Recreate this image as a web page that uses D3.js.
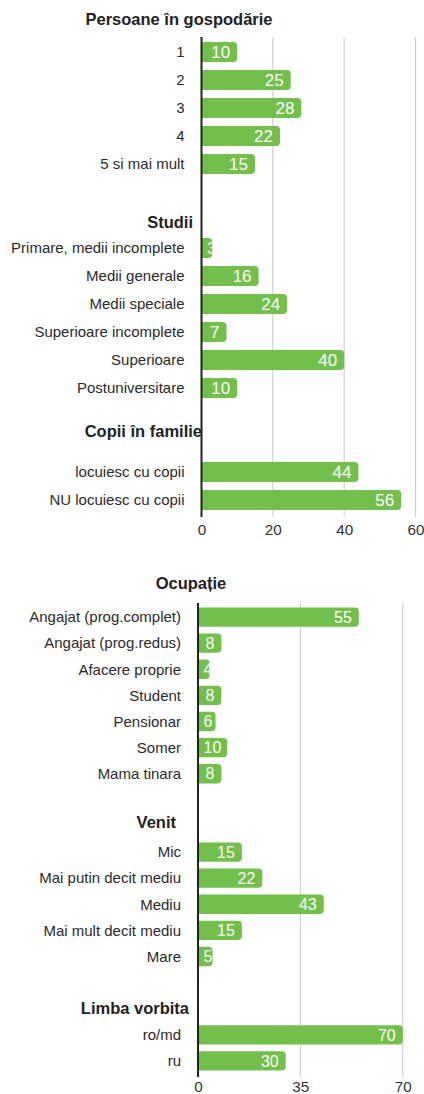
<!DOCTYPE html>
<html>
<head>
<meta charset="utf-8">
<script src="https://cdn.jsdelivr.net/npm/d3@7"></script>
<style>
  html, body { margin: 0; padding: 0; background: #fff; }
  svg { display: block; font-family: "Liberation Sans", Arial, Helvetica, sans-serif; }
</style>
</head>
<body>
<svg id="chart" width="424" height="1094"></svg>
<script>
// ---------- DATA ----------
const persoaneTitle = "Persoane în gospodărie";
const persoaneCats = ["1", "2", "3", "4", "5 si mai mult"];
const persoaneVals = [10, 25, 28, 22, 15];

const studiiTitle = "Studii";
const studiiCats = ["Primare, medii incomplete", "Medii generale", "Medii speciale", "Superioare incomplete", "Superioare", "Postuniversitare"];
const studiiVals = [3, 16, 24, 7, 40, 10];

const copiiTitle = "Copii în familie";
const copiiCats = ["locuiesc cu copii", "NU locuiesc cu copii"];
const copiiVals = [44, 56];

const topTicks = [0, 20, 40, 60];

const ocupatieTitle = "Ocupație";
const ocupatieCats = ["Angajat (prog.complet)", "Angajat (prog.redus)", "Afacere proprie", "Student", "Pensionar", "Somer", "Mama tinara"];
const ocupatieVals = [55, 8, 4, 8, 6, 10, 8];

const venitTitle = "Venit";
const venitCats = ["Mic", "Mai putin decit mediu", "Mediu", "Mai mult decit mediu", "Mare"];
const venitVals = [15, 22, 43, 15, 5];

const limbaTitle = "Limba vorbita";
const limbaCats = ["ro/md", "ru"];
const limbaVals = [70, 30];

const bottomTicks = [0, 35, 70];

// ---------- DRAWING ----------
const svg = d3.select("#chart");
const GREEN = "#72bf4c";
let clipId = 0;

function roundedRight(x0, y, w, h, r) {
  r = Math.min(r, w, h / 2);
  const p = d3.path();
  p.moveTo(x0, y);
  p.lineTo(x0 + w - r, y);
  p.arcTo(x0 + w, y, x0 + w, y + r, r);
  p.lineTo(x0 + w, y + h - r);
  p.arcTo(x0 + w, y + h, x0 + w - r, y + h, r);
  p.lineTo(x0, y + h);
  p.closePath();
  return p.toString();
}

function drawChart(cfg) {
  const g = svg.append("g");
  const x = d3.scaleLinear().domain([0, cfg.max]).range([cfg.x0, cfg.x1]);
  const y = d3.scaleBand().domain(cfg.rows.map(r => r.key)).range([cfg.y0, cfg.y1]).paddingInner(cfg.pad).paddingOuter(cfg.pad / 2);

  // grid lines
  g.append("g").selectAll("line").data(cfg.ticks.filter(t => t !== 0)).join("line")
    .attr("x1", d => x(d)).attr("x2", d => x(d))
    .attr("y1", cfg.y0 - 1).attr("y2", cfg.y1 + 3)
    .attr("stroke", "#cfcfcf").attr("stroke-width", 1.2);

  // tick labels via d3 axis
  const axis = d3.axisBottom(x).tickValues(cfg.ticks).tickSize(0).tickPadding(0).tickFormat(d3.format("d"));
  const ax = g.append("g").attr("transform", `translate(0,${cfg.tickY})`).call(axis);
  ax.select(".domain").remove();
  ax.selectAll("text").attr("font-size", 15.3).attr("fill", "#333").attr("dy", "0.35em")
    .attr("font-family", '"Liberation Sans", Arial, sans-serif');

  // title
  g.append("text").attr("x", cfg.titleX).attr("y", cfg.titleY).attr("dy", "0.35em")
    .attr("text-anchor", "middle").attr("font-size", 16.5).attr("font-weight", "bold")
    .attr("fill", "#222").text(cfg.title);

  const items = cfg.rows.filter(r => r.type === "item");
  const headers = cfg.rows.filter(r => r.type === "header");

  // headers
  g.append("g").selectAll("text").data(headers).join("text")
    .attr("x", d => d.hx)
    .attr("y", d => y(d.key) + y.bandwidth() / 2 + d.dy)
    .attr("dy", "0.35em").attr("text-anchor", "end")
    .attr("font-size", 16.5).attr("font-weight", "bold").attr("fill", "#222")
    .text(d => d.label);

  // category labels
  g.append("g").selectAll("text").data(items).join("text")
    .attr("x", cfg.x0 - cfg.labelGap)
    .attr("y", d => y(d.key) + y.bandwidth() / 2)
    .attr("dy", "0.35em").attr("text-anchor", "end")
    .attr("font-size", 15).attr("fill", "#2a2a2a")
    .text(d => d.label);

  // bars
  const bars = g.append("g").selectAll("g").data(items).join("g");
  bars.each(function(d) {
    const sel = d3.select(this);
    const id = "clip" + (clipId++);
    const bx = x(0), bw = x(d.value) - x(0), by = y(d.key), bh = y.bandwidth();
    const pathD = roundedRight(bx, by, bw, bh, 4);
    sel.append("clipPath").attr("id", id).append("path").attr("d", pathD);
    sel.append("path").attr("d", pathD).attr("fill", GREEN);
    const t = sel.append("text")
      .attr("y", by + bh / 2).attr("dy", "0.36em")
      .attr("font-size", cfg.valSize).attr("fill", "#fff")
      .attr("clip-path", `url(#${id})`)
      .text(d.value);
    const tw = t.node().getComputedTextLength();
    const tx = Math.max(bx + 5.5, bx + bw - 7 - tw);
    t.attr("x", tx);
  });

  // axis line
  g.append("line").attr("x1", x(0)).attr("x2", x(0))
    .attr("y1", cfg.y0 - 1).attr("y2", cfg.y1 + 3)
    .attr("stroke", "#222").attr("stroke-width", 2);
}

function makeRows(groups) {
  const rows = [];
  groups.forEach((grp, gi) => {
    if (grp.header) rows.push({ type: "header", key: "_h" + gi, label: grp.header, hx: grp.hx, dy: grp.hdy });
    grp.cats.forEach((c, i) => rows.push({ type: "item", key: c, label: c, value: grp.vals[i] }));
    if (grp.after) rows.push({ type: "space", key: "_s" + gi });
  });
  return rows;
}

drawChart({
  title: persoaneTitle, titleX: 179, titleY: 19,
  rows: makeRows([
    { cats: persoaneCats, vals: persoaneVals, after: true },
    { header: studiiTitle, hx: 193, hdy: 2, cats: studiiCats, vals: studiiVals, after: true },
    { header: copiiTitle, hx: 202, hdy: -13, cats: copiiCats, vals: copiiVals }
  ]),
  max: 60, ticks: topTicks,
  x0: 201.5, x1: 415.5, y0: 38, y1: 514, pad: 0.28,
  tickY: 530, labelGap: 17, valSize: 17
});

drawChart({
  title: ocupatieTitle, titleX: 191, titleY: 583,
  rows: makeRows([
    { cats: ocupatieCats, vals: ocupatieVals, after: true },
    { header: venitTitle, hx: 176, hdy: -4, cats: venitCats, vals: venitVals, after: true },
    { header: limbaTitle, hx: 189, hdy: 0, cats: limbaCats, vals: limbaVals }
  ]),
  max: 70, ticks: bottomTicks,
  x0: 198, x1: 402.7, y0: 604, y1: 1074, pad: 0.26,
  tickY: 1087, labelGap: 17, valSize: 16
});
</script>
</body>
</html>
